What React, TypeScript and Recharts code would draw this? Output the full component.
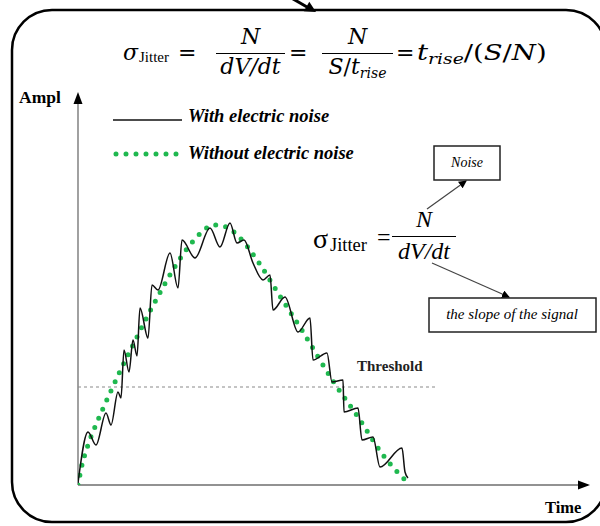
import React from 'react';
import { LineChart, Line, XAxis, YAxis, ReferenceLine, ReferenceDot } from 'recharts';

// signal with electric noise (time, amplitude in arbitrary units)
const noisyTime = [0, 10, 18, 28, 33, 40, 43, 46, 51, 55, 59, 62, 70, 74, 80, 92, 100, 104, 117, 132, 142, 152, 159, 166, 175, 185, 192, 195, 207, 220, 232, 235, 249, 254, 265, 266, 280, 284, 295, 302, 324, 327, 330];
const noisyAmp = [2, 53, 40, 72, 60, 93, 87, 135, 113, 145, 129, 177, 147, 200, 195, 232, 197, 245, 227, 257, 238, 262, 242, 245, 222, 205, 210, 175, 188, 153, 167, 125, 132, 103, 105, 73, 77, 45, 48, 18, 37, 13, 7];

// same signal without electric noise
const cleanTime = [0, 4, 10, 20, 32, 44, 56, 70, 84, 98, 112, 124, 135, 148, 162, 179, 200, 225, 255, 280, 305, 332];
const cleanAmp = [0, 20, 40, 65, 92, 118, 142, 170, 196, 220, 240, 253, 260, 258, 247, 225, 192, 153, 104, 68, 30, 0];

const THRESHOLD = 98;
const THRESHOLD_END = 359;
const TIME_MAX = 510;
const AMPL_MAX = 390;

const noisy = noisyTime.map((t, i) => ({ t, amp: noisyAmp[i] }));
const clean = cleanTime.map((t, i) => ({ t, amp: cleanAmp[i] }));

const SERIF = '"Liberation Serif", "DejaVu Serif", serif';
const MATH = '"DejaVu Serif", "Liberation Serif", serif';
const GREEN = '#1fb84f';
const AXIS = '#6e6e6e';

function Txt({ x, y, size, center, font, sx, style, children }: any) {
  return (
    <div
      style={{
        position: 'absolute',
        left: x,
        top: y - size * 0.8375,
        fontSize: size,
        lineHeight: `${size}px`,
        fontFamily: font ?? SERIF,
        whiteSpace: 'nowrap',
        transformOrigin: 'left top',
        transform: center ? 'translateX(-50%)' : sx ? `scaleX(${sx})` : undefined,
        ...style,
      }}
    >
      {children}
    </div>
  );
}

function Frac({ x, w, bar, size, font, num, den }: any) {
  return (
    <div
      style={{
        position: 'absolute',
        left: x,
        top: bar - size - 5,
        width: w,
        textAlign: 'center',
        fontFamily: font ?? SERIF,
        fontSize: size,
        lineHeight: `${size}px`,
        whiteSpace: 'nowrap',
      }}
    >
      <div style={{ height: size, marginBottom: 5 }}>{num}</div>
      <div style={{ borderTop: '1.3px solid #000', paddingTop: 2 }}>{den}</div>
    </div>
  );
}

const sub = (s: string, size: number, italic = false) => (
  <span style={{ fontSize: size, fontStyle: italic ? 'italic' : 'normal', position: 'relative', top: size * 0.3 }}>{s}</span>
);

const it = { fontStyle: 'italic' };
const boldIt = { fontWeight: 'bold', fontStyle: 'italic' };

export default function App() {
  return (
    <div style={{ position: 'fixed', left: 0, top: 0, width: 600, height: 526, background: '#fff', overflow: 'hidden' }}>
      <LineChart width={600} height={526} data={clean} margin={{ top: 95, right: 12, bottom: 41, left: 78 }}>
        <XAxis dataKey="t" type="number" domain={[0, TIME_MAX]} hide allowDataOverflow />
        <YAxis type="number" domain={[0, AMPL_MAX]} hide allowDataOverflow />
        <ReferenceLine y={0} stroke={AXIS} strokeWidth={1.3} />
        <ReferenceLine x={0} stroke={AXIS} strokeWidth={1.3} />
        <ReferenceDot
          x={TIME_MAX}
          y={0}
          shape={(p: any) => <path d={`M${p.cx + 2},${p.cy} l-12,-4.5 v9 z`} fill="#000" />}
        />
        <ReferenceDot
          x={0}
          y={AMPL_MAX}
          shape={(p: any) => <path d={`M${p.cx},${p.cy - 3} l-4.5,12 h9 z`} fill="#000" />}
        />
        <ReferenceLine
          segment={[{ x: 0, y: THRESHOLD }, { x: THRESHOLD_END, y: THRESHOLD }]}
          stroke="#8a8a8a"
          strokeWidth={1.2}
          strokeDasharray="3 3"
        />
        <Line
          data={clean}
          dataKey="amp"
          type="monotone"
          stroke={GREEN}
          strokeWidth={5}
          strokeDasharray="0 10"
          strokeLinecap="round"
          dot={false}
          isAnimationActive={false}
        />
        <Line
          data={noisy}
          dataKey="amp"
          type="monotone"
          stroke="#111"
          strokeWidth={1.5}
          dot={false}
          isAnimationActive={false}
        />
      </LineChart>

      <svg width={600} height={526} style={{ position: 'absolute', left: 0, top: 0, pointerEvents: 'none' }}>
        <defs>
          <marker id="ah" markerWidth="8" markerHeight="8" refX="7" refY="4" orient="auto" markerUnits="userSpaceOnUse">
            <path d="M0,0 L8,4 L0,8 z" fill="#000" />
          </marker>
        </defs>
        <rect x={12} y={10} width={594} height={512} rx={40} fill="none" stroke="#000" strokeWidth={2.5} />
        <line x1={288} y1={-4} x2={307} y2={7} stroke="#000" strokeWidth={3} />
        <path d="M316,12 L303.8,11.3 L309.3,1.7 z" fill="#000" />
        <line x1={113} y1={120} x2={182} y2={120} stroke="#111" strokeWidth={1.5} />
        <line x1={116} y1={154} x2={178} y2={154} stroke={GREEN} strokeWidth={5} strokeDasharray="0 10" strokeLinecap="round" />
        <rect x={434} y={146} width={66} height={34} fill="#fff" stroke="#222" strokeWidth={1.5} />
        <rect x={429} y={298} width={167} height={34} fill="#fff" stroke="#222" strokeWidth={1.5} />
        <line x1={427} y1={209} x2={466} y2={181} stroke="#444" strokeWidth={1.2} markerEnd="url(#ah)" />
        <line x1={432} y1={263} x2={509} y2={297} stroke="#444" strokeWidth={1.2} markerEnd="url(#ah)" />
      </svg>

      {/* top formula */}
      <Txt x={123} y={60} size={22} font={MATH} style={it}>σ</Txt>
      <Txt x={139} y={63} size={15}>Jitter</Txt>
      <Txt x={178} y={60} size={22} font={MATH}>=</Txt>
      <Frac x={216} w={69} bar={53} size={22} font={MATH} num={<i>N</i>} den={<i>dV/dt</i>} />
      <Txt x={289} y={60} size={22} font={MATH}>=</Txt>
      <Frac x={322} w={71} bar={53} size={22} font={MATH} num={<i>N</i>} den={<span><i>S</i>/<i>t</i>{sub('rise', 14, true)}</span>} />
      <Txt x={396} y={60} size={22} font={MATH}>=</Txt>
      <Txt x={417} y={60} size={22} font={MATH} sx={1.25}>
        <i>t</i>{sub('rise', 15, true)}/(<i>S</i>/<i>N</i>)
      </Txt>

      {/* legend */}
      <Txt x={188} y={122} size={18.5} style={boldIt}>With electric noise</Txt>
      <Txt x={188} y={159} size={18.5} style={boldIt}>Without electric noise</Txt>

      {/* axis labels */}
      <Txt x={19} y={104} size={17.5} style={{ fontWeight: 'bold' }}>Ampl</Txt>
      <Txt x={545} y={514} size={16.5} style={{ fontWeight: 'bold' }}>Time</Txt>
      <Txt x={357} y={372} size={15} style={{ fontWeight: 'bold', color: '#222' }}>Threshold</Txt>

      {/* middle formula */}
      <Txt x={313} y={248} size={28}>σ</Txt>
      <Txt x={330} y={251} size={18.5}>Jitter</Txt>
      <Txt x={377} y={245} size={24}>=</Txt>
      <Frac x={392} w={64} bar={236} size={24} num={<i>N</i>} den={<i>dV/dt</i>} />

      {/* annotation boxes */}
      <Txt x={467} y={168} size={14} center style={it}>Noise</Txt>
      <Txt x={512} y={320} size={15} center style={it}>the slope of the signal</Txt>
    </div>
  );
}
